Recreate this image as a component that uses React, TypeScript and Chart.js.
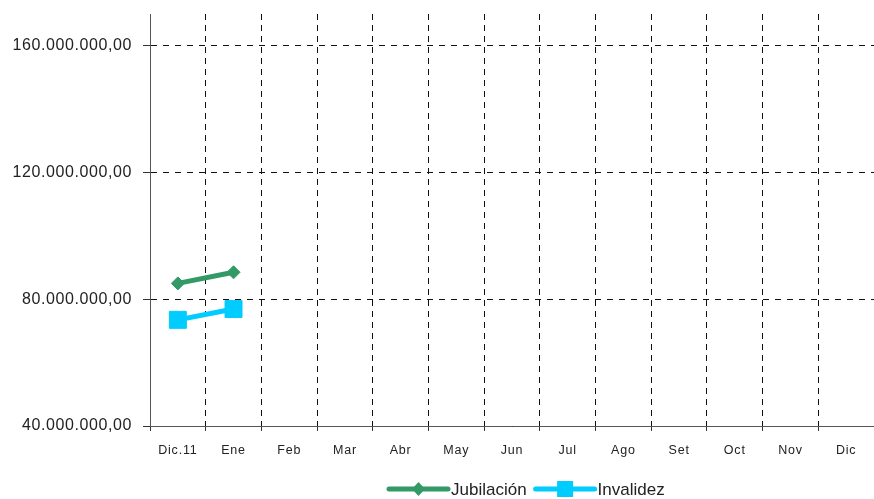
import React, { useEffect, useRef } from "react";
import { Chart, registerables } from "chart.js";

Chart.register(...registerables);

const categories = ["Dic.11", "Ene", "Feb", "Mar", "Abr", "May", "Jun", "Jul", "Ago", "Set", "Oct", "Nov", "Dic"];
const jubilacion: (number | null)[] = [85000000, 88500000, null, null, null, null, null, null, null, null, null, null, null];
const invalidez: (number | null)[] = [73500000, 76900000, null, null, null, null, null, null, null, null, null, null, null];
const seriesNames = ["Jubilación", "Invalidez"];
const seriesColors = ["#339966", "#00CCFF"];
const yTicks = [40000000, 80000000, 120000000, 160000000];
const yMin = 40000000;
const yMax = 170000000;

const FONT = "'Liberation Sans', Arial, sans-serif";

function fmt(v: number): string {
  const s = Math.round(v).toString();
  const parts: string[] = [];
  for (let i = s.length; i > 0; i -= 3) parts.unshift(s.slice(Math.max(0, i - 3), i));
  return parts.join(".") + ",00";
}

function withSpacing(scale: any, spacing: string) {
  if (scale._spacingPatched) return;
  const orig = scale.drawLabels;
  scale.drawLabels = function (area: any) {
    const ctx = this.ctx;
    ctx.save();
    (ctx as any).letterSpacing = spacing;
    orig.call(this, area);
    ctx.restore();
  };
  scale._spacingPatched = true;
}

const spacingPlugin = {
  id: "spacing",
  afterLayout(chart: any) {
    withSpacing(chart.scales.x, "0.8px");
    withSpacing(chart.scales.y, "0.6px");
  },
};

const legendPlugin = {
  id: "customLegend",
  afterDraw(chart: any) {
    const ctx = chart.ctx as CanvasRenderingContext2D;
    ctx.save();
    ctx.font = `17px ${FONT}`;
    ctx.textBaseline = "middle";
    const y = 489;
    let x = 389;
    seriesNames.forEach((name, i) => {
      const lineLen = 59;
      const color = seriesColors[i];
      ctx.strokeStyle = color;
      ctx.lineWidth = 5;
      ctx.lineCap = "round";
      ctx.beginPath();
      ctx.moveTo(x, y);
      ctx.lineTo(x + lineLen, y);
      ctx.stroke();
      const cx = x + lineLen / 2;
      ctx.fillStyle = color;
      ctx.beginPath();
      if (i === 0) {
        ctx.moveTo(cx - 6.5, y);
        ctx.lineTo(cx, y - 7);
        ctx.lineTo(cx + 6.5, y);
        ctx.lineTo(cx, y + 7);
        ctx.closePath();
      } else {
        ctx.rect(cx - 8, y - 8, 16, 16);
      }
      ctx.fill();
      x += lineLen + 3;
      ctx.fillStyle = "#222";
      ctx.textAlign = "left";
      ctx.fillText(name, x, y + 1);
      x += ctx.measureText(name).width + 9;
    });
    ctx.restore();
  },
};

export default function App() {
  const ref = useRef<HTMLCanvasElement | null>(null);
  useEffect(() => {
    if (!ref.current) return;
    const chart = new Chart(ref.current, {
      type: "line",
      data: {
        labels: categories,
        datasets: [
          {
            label: seriesNames[0],
            data: jubilacion,
            borderColor: seriesColors[0],
            backgroundColor: seriesColors[0],
            borderWidth: 5,
            pointStyle: "rectRot",
            pointRadius: 6.5,
            pointBorderWidth: 1,
            tension: 0,
          },
          {
            label: seriesNames[1],
            data: invalidez,
            borderColor: seriesColors[1],
            backgroundColor: seriesColors[1],
            borderWidth: 5,
            pointStyle: "rect",
            pointRadius: 12,
            pointBorderWidth: 1,
            tension: 0,
          },
        ],
      },
      options: {
        animation: false,
        responsive: true,
        maintainAspectRatio: false,
        layout: { autoPadding: false, padding: { top: 14, right: 0, bottom: 33, left: 0 } },
        plugins: { legend: { display: false }, tooltip: { enabled: false } },
        scales: {
          x: {
            offset: true,
            grid: { offset: true, color: "#111", lineWidth: 1, tickLength: 5, tickColor: "#333" },
            border: { display: true, color: "#555", width: 1, dash: [6, 5] },
            ticks: { font: { family: FONT, size: 12.5 }, color: "#222", padding: 12, autoSkip: false, maxRotation: 0 },
            afterFit: (s: any) => {
              s.height = 40;
              s.paddingLeft = 0;
              s.paddingRight = 0;
            },
          },
          y: {
            min: yMin,
            max: yMax,
            afterBuildTicks: (s: any) => {
              s.ticks = yTicks.map((v) => ({ value: v }));
            },
            grid: { color: "#111", lineWidth: 1, tickLength: 7, tickColor: "#333" },
            border: { display: true, color: "#555", width: 1, dash: [6, 6] },
            ticks: {
              font: { family: FONT, size: 16 },
              color: "#222",
              padding: 11,
              callback: (v: any) => fmt(Number(v)),
            },
            afterFit: (s: any) => {
              s.width = 150;
              s.paddingTop = 0;
              s.paddingBottom = 0;
            },
          },
        },
      },
      plugins: [spacingPlugin, legendPlugin],
    });
    return () => chart.destroy();
  }, []);
  return (
    <div style={{ position: "fixed", left: 0, top: 0, width: 874, height: 499 }}>
      <canvas ref={ref} />
    </div>
  );
}
